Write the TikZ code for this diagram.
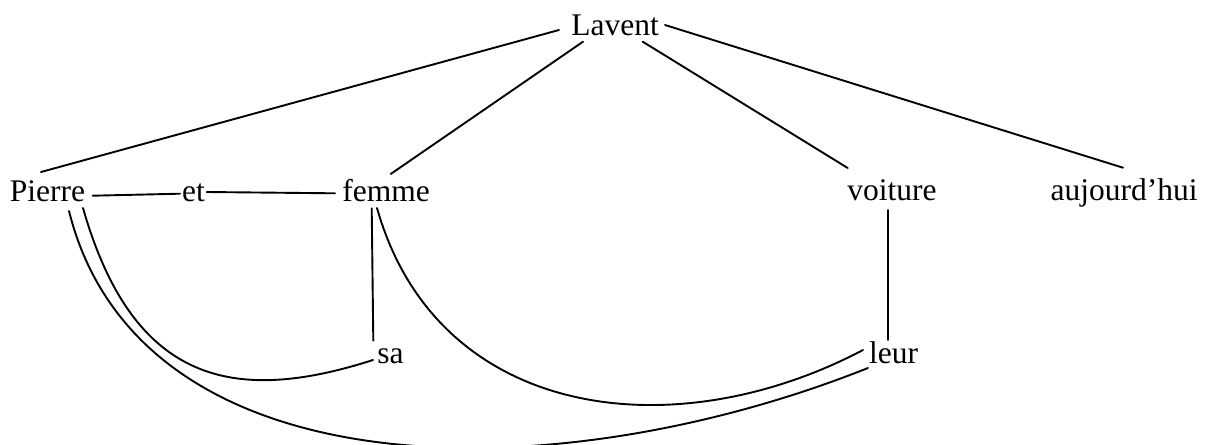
\documentclass[tikz,border=0pt]{standalone}
\usepackage{fontspec}
\setmainfont{Liberation Serif}
\begin{document}
\begin{tikzpicture}[x=1pt,y=-1pt,
  word/.style={anchor=base,inner sep=0pt,font=\fontsize{31.5}{36}\selectfont},
  link/.style={line width=1.9pt,line cap=round}]
\useasboundingbox (0,0) rectangle (1206,444);
\node[word] (lavent) at (615,36) {Lavent};
\node[word] (pierre) at (47.5,201) {Pierre};
\node[word] (et) at (193.5,201) {et};
\node[word] (femme) at (386,201) {femme};
\node[word] (voiture) at (892,200) {voiture};
\node[word] (auj) at (1124,200) {aujourd’hui};
\node[word] (sa) at (390.5,363) {sa};
\node[word] (leur) at (893.5,363) {leur};
\draw[link] ([shift={(-56,-6)}]lavent.base) -- ([shift={(-6.5,-29)}]pierre.base);
\draw[link] ([shift={(-32,5.7)}]lavent.base) -- ([shift={(4.7,-27)}]femme.base);
\draw[link] ([shift={(27.7,5.7)}]lavent.base) -- ([shift={(-44.3,-32)}]voiture.base);
\draw[link] ([shift={(50,-11)}]lavent.base) -- ([shift={(-1,-32.3)}]auj.base);
\draw[link] ([shift={(45.2,-5.3)}]pierre.base) -- ([shift={(-13.5,-7.3)}]et.base);
\draw[link] ([shift={(13.2,-9)}]et.base) -- ([shift={(-51,-7.7)}]femme.base);
\draw[link] ([shift={(-14.3,7.3)}]femme.base) -- ([shift={(-17.2,-22.3)}]sa.base);
\draw[link] ([shift={(-4.3,10)}]voiture.base) -- ([shift={(-5.8,-23)}]leur.base);
\draw[link] ([shift={(35.5,7)}]pierre.base) .. controls +(50,175) and +(-140,45) .. ([shift={(-17.5,-3)}]sa.base);
\draw[link] ([shift={(21.5,10)}]pierre.base) .. controls +(70.5,282) and +(-314,125) .. ([shift={(-25.5,5)}]leur.base);
\draw[link] ([shift={(-9,7)}]femme.base) .. controls +(60,212) and +(-190,100) .. ([shift={(-30.5,-13)}]leur.base);
\end{tikzpicture}
\end{document}
